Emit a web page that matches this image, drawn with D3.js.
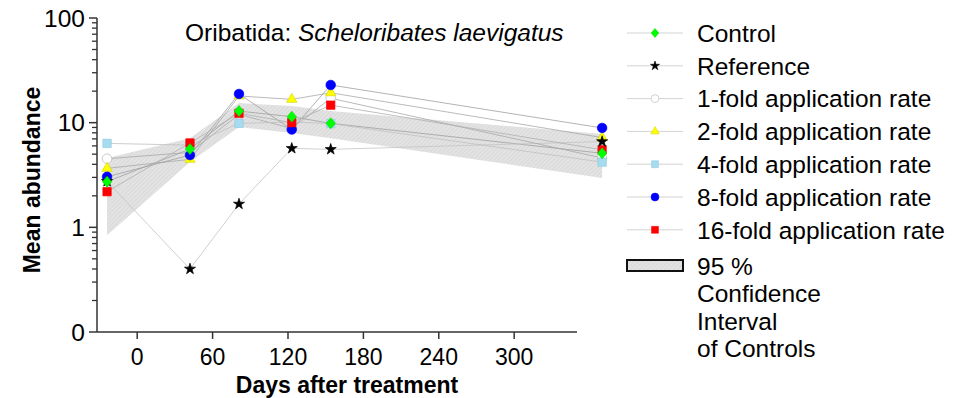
<!DOCTYPE html>
<html>
<head>
<meta charset="utf-8">
<script src="https://cdn.jsdelivr.net/npm/d3@7"></script>
<style>
body { margin: 0; background: #fff; }
svg { display: block; font-family: "Liberation Sans", Arial, sans-serif; }
</style>
</head>
<body>
<svg width="953" height="398"></svg>
<script>
// sampling days
var days = [-24, 42, 81, 123, 154, 370]

var seriesNames = ["Control", "Reference", "1-fold application rate", "2-fold application rate",
	"4-fold application rate", "8-fold application rate", "16-fold application rate"]

var control = [2.73, 5.6, 12.9, 11.4, 9.85, 5.1]
var reference = [2.75, 0.4, 1.67, 5.68, 5.56, 6.6]
var fold1 = [4.52, 5.2, 12.0, 8.8, 17.1, 4.6]
var fold2 = [3.66, 4.46, 18.0, 16.7, 19.3, 7.2]
var fold4 = [6.34, 6.1, 9.85, 10.15, 9.8, 4.2]
var fold8 = [3.04, 4.9, 18.8, 8.6, 22.9, 8.9]
var fold16 = [2.19, 6.4, 12.3, 10.0, 14.7, 5.5]

var ciUpper = [4.6, 7.1, 15.4, 14.4, 12.9, 7.8]
var ciLower = [0.84, 4.2, 9.1, 7.96, 7.1, 2.96]

var xTicks = [0, 60, 120, 180, 240, 300]
var yTicks = [0.1, 1, 10, 100]
var yTickLabels = ["0", "1", "10", "100"]

var values = [control, reference, fold1, fold2, fold4, fold8, fold16]
var symbols = ["diamond", "star", "circle", "triangle", "square", "circle", "square"]
var fills = ["#00ff00", "#000000", "#ffffff", "#ffff00", "#a6dcf0", "#0000ff", "#ff0000"]
var strokes = ["#00e000", "#000000", "#b4b4b4", "#d8d800", "#94cce0", "#0000ff", "#ff0000"]

var fs = 24.5

var svg = d3.select("svg")

var x = d3.scaleLinear().domain([-32, 350]).range([97, 577])
var y = d3.scaleLog().domain([0.1, 100]).range([332, 18])

var defs = svg.append("defs")
var pat = defs.append("pattern").attr("id", "hatch").attr("patternUnits", "userSpaceOnUse")
	.attr("width", 3).attr("height", 3).attr("patternTransform", "rotate(45)")
pat.append("rect").attr("width", 3).attr("height", 3).attr("fill", "#e3e3e3")
pat.append("line").attr("x1", 0).attr("y1", 0).attr("x2", 0).attr("y2", 3)
	.attr("stroke", "#d0d0d0").attr("stroke-width", 1)

// confidence band
var band = d3.area()
	.x(function(d, i) { return x(days[i]) })
	.y0(function(d, i) { return y(ciLower[i]) })
	.y1(function(d) { return y(d) })
svg.append("path").datum(ciUpper).attr("d", band).attr("fill", "url(#hatch)")

// lines
var line = d3.line()
	.x(function(d, i) { return x(days[i]) })
	.y(function(d) { return y(d) })

var lineCols = ["#a0a0a0", "#c4c4c4", "#a8a8a8", "#a8a8a8", "#c0c0c0", "#a0a0a0", "#b0b0b0"]
values.forEach(function(v, k) {
	svg.append("path").datum(v).attr("d", line)
		.attr("fill", "none").attr("stroke", lineCols[k]).attr("stroke-width", 0.8)
})

// marker shape, s = scale
function marker(type, s) {
	if (type == "diamond") return "M0," + (-5.5 * s) + "L" + (4.6 * s) + ",0L0," + (5.5 * s) + "L" + (-4.6 * s) + ",0Z"
	if (type == "star") return d3.symbol().type(d3.symbolStar).size(38 * s * s)()
	if (type == "triangle") return d3.symbol().type(d3.symbolTriangle).size(46 * s * s)()
	if (type == "square") return d3.symbol().type(d3.symbolSquare).size(70 * s * s)()
	return d3.symbol().type(d3.symbolCircle).size(72 * s * s)()
}

// draw order of the markers
var order = [2, 3, 4, 5, 6, 1, 0]
order.forEach(function(k) {
	svg.append("g").selectAll("path").data(values[k]).enter().append("path")
		.attr("transform", function(d, i) { return "translate(" + x(days[i]) + "," + y(d) + ")" })
		.attr("d", marker(symbols[k], 1))
		.attr("fill", fills[k])
		.attr("stroke", strokes[k])
		.attr("stroke-width", 0.7)
})

// axes
var axisCol = "#333"
var yAxis = svg.append("g")
yAxis.append("line").attr("x1", 97).attr("x2", 97).attr("y1", y(100)).attr("y2", y(0.1))
	.attr("stroke", axisCol).attr("stroke-width", 1.5)

var minor = []
;[0.1, 1, 10].forEach(function(b) {
	for (var m = 2; m <= 9; m++) minor.push(b * m)
})
yAxis.selectAll(".minor").data(minor).enter().append("line")
	.attr("x1", 92).attr("x2", 97)
	.attr("y1", function(d) { return y(d) }).attr("y2", function(d) { return y(d) })
	.attr("stroke", axisCol).attr("stroke-width", 1.3)
yAxis.selectAll(".major").data(yTicks).enter().append("line")
	.attr("x1", 89).attr("x2", 97)
	.attr("y1", function(d) { return y(d) }).attr("y2", function(d) { return y(d) })
	.attr("stroke", axisCol).attr("stroke-width", 1.5)
yAxis.selectAll("text").data(yTicks).enter().append("text")
	.attr("x", 85).attr("y", function(d) { return y(d) })
	.attr("dy", "0.36em").attr("text-anchor", "end")
	.attr("font-size", fs).text(function(d, i) { return yTickLabels[i] })

var xAxis = svg.append("g")
xAxis.append("line").attr("x1", 97).attr("x2", 577).attr("y1", 332).attr("y2", 332)
	.attr("stroke", axisCol).attr("stroke-width", 1.5)
xAxis.selectAll(".tk").data(xTicks).enter().append("line")
	.attr("x1", function(d) { return x(d) }).attr("x2", function(d) { return x(d) })
	.attr("y1", 332).attr("y2", 339)
	.attr("stroke", axisCol).attr("stroke-width", 1.5)
xAxis.selectAll("text").data(xTicks).enter().append("text")
	.attr("x", function(d) { return x(d) }).attr("y", 365)
	.attr("text-anchor", "middle").attr("font-size", 23).text(function(d) { return d })

svg.append("text").attr("x", 347).attr("y", 393).attr("text-anchor", "middle")
	.attr("font-size", 23).attr("font-weight", "bold").text("Days after treatment")
svg.append("text").attr("transform", "translate(40,180) rotate(-90)").attr("text-anchor", "middle")
	.attr("font-size", 23).attr("font-weight", "bold").text("Mean abundance")

var title = svg.append("text").attr("x", 185).attr("y", 41).attr("font-size", fs)
title.append("tspan").text("Oribatida: ")
title.append("tspan").attr("font-style", "italic").text("Scheloribates laevigatus")

// legend
var legend = svg.append("g")
seriesNames.forEach(function(name, k) {
	var ly = 33 + k * 32.8
	legend.append("line").attr("x1", 627).attr("x2", 683).attr("y1", ly).attr("y2", ly)
		.attr("stroke", "#c8c8c8").attr("stroke-width", 0.8)
	legend.append("path").attr("transform", "translate(655," + ly + ")")
		.attr("d", marker(symbols[k], 0.82))
		.attr("fill", fills[k]).attr("stroke", strokes[k]).attr("stroke-width", 0.6)
	legend.append("text").attr("x", 697).attr("y", ly).attr("dy", "0.36em")
		.attr("font-size", fs).text(name)
})
legend.append("rect").attr("x", 627).attr("y", 260).attr("width", 56).attr("height", 11)
	.attr("fill", "url(#hatch)").attr("stroke", "#111").attr("stroke-width", 2)
var ciText = ["95 %", "Confidence", "Interval", "of Controls"]
ciText.forEach(function(t, i) {
	legend.append("text").attr("x", 697).attr("y", 266 + i * 27.5).attr("dy", "0.36em")
		.attr("font-size", fs).text(t)
})
</script>
</body>
</html>
